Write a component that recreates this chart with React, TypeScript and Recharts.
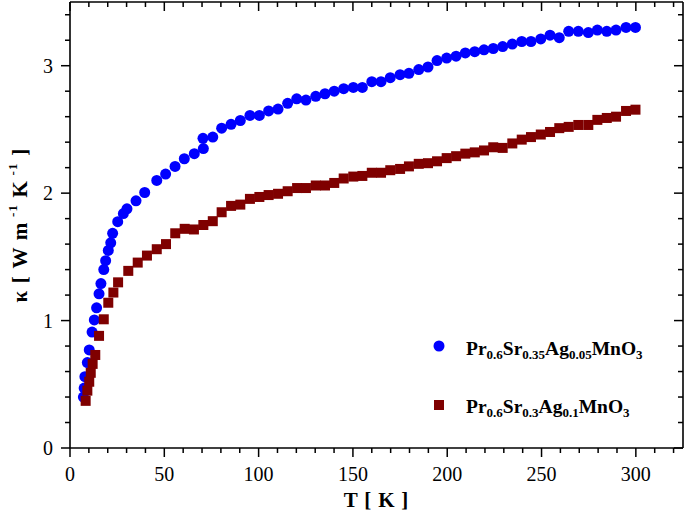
import React from "react";
import { ScatterChart, Scatter, XAxis, YAxis } from "recharts";

const FONT = "'Liberation Serif', 'Times New Roman', serif";

// Pr0.6Sr0.35Ag0.05MnO3 (blue circles)
const blueT = [
  7.1, 7.5, 7.9, 9.2, 10.2, 11.7, 12.9, 14.1, 15.4, 16.4, 17.9, 18.9, 20.3, 21.6, 22.6, 25.3, 28.3, 30.2, 35,
  39.6, 46, 50.7, 55.7, 60.6, 65.9, 70.7, 70.5, 75.7, 80.4, 85.4, 90.3, 95.4, 100.4, 105.3, 110.3, 115.4, 120.2,
  125.1, 130.3, 135.2, 140.1, 145.1, 150.2, 155, 160, 164.9, 169.8, 175, 179.7, 184.9, 189.8, 194.6, 199.7,
  204.7, 209.6, 214.6, 219.5, 224.4, 229.4, 234.5, 239.5, 244.4, 249.6, 254.5, 259.4, 264.4, 269.5, 274.8,
  279.6, 284.6, 289.5, 294.8, 299.8,
];
const blueK = [
  0.4, 0.47, 0.56, 0.67, 0.77, 0.91, 1.005, 1.1, 1.21, 1.29, 1.4, 1.47, 1.55, 1.61, 1.685, 1.776, 1.84, 1.877, 1.94,
  2.005, 2.1, 2.15, 2.21, 2.27, 2.31, 2.35, 2.43, 2.44, 2.51, 2.54, 2.57, 2.61, 2.61, 2.645, 2.66, 2.705, 2.74,
  2.73, 2.76, 2.78, 2.8, 2.82, 2.83, 2.83, 2.875, 2.875, 2.906, 2.93, 2.94, 2.97, 2.99, 3.04, 3.06,
  3.075, 3.1, 3.11, 3.125, 3.135, 3.15, 3.17, 3.19, 3.19, 3.21, 3.24, 3.22, 3.27, 3.27, 3.26,
  3.28, 3.27, 3.28, 3.3, 3.3,
];

// Pr0.6Sr0.3Ag0.1MnO3 (dark red squares)
const redT = [
  8.3, 9.2, 10.2, 11.0, 12.0, 13.4, 15.4, 17.9, 20.3, 23.0, 25.5, 30.9, 35.9, 40.8, 46.0, 50.9, 55.8, 60.8,
  65.7, 70.7, 75.7, 80.4, 85.4, 90.3, 95.4, 100.4, 105.3, 110.3, 115.4, 120.4, 125.1, 130.3, 135.2, 140.1,
  145.1, 150.2, 155, 160, 164.9, 169.8, 175, 179.7, 184.9, 189.8, 194.6, 199.7, 204.7, 209.6, 214.6, 219.5,
  224.4, 229.4, 234.5, 239.5, 244.4, 249.6, 254.5, 259.4, 264.4, 269.5, 274.8, 279.6, 284.6, 289.5, 294.8, 299.8,
];
const redK = [
  0.37, 0.45, 0.52, 0.59, 0.66, 0.73, 0.88, 1.01, 1.14, 1.22, 1.3, 1.39, 1.455, 1.51, 1.56, 1.6, 1.685, 1.72,
  1.715, 1.75, 1.78, 1.85, 1.9, 1.91, 1.955, 1.97, 1.985, 1.995, 2.015, 2.04, 2.04, 2.06, 2.06, 2.08,
  2.115, 2.13, 2.135, 2.16, 2.16, 2.18, 2.19, 2.21, 2.23, 2.235, 2.25, 2.275, 2.29, 2.31, 2.32, 2.335,
  2.36, 2.355, 2.39, 2.42, 2.44, 2.46, 2.48, 2.51, 2.52, 2.535, 2.535, 2.575, 2.59, 2.6, 2.645, 2.655,
];

// every 10 K on x, every 0.2 on y; majors get labels
const xTicks = [0, 10, 20, 30, 40, 50, 60, 70, 80, 90, 100, 110, 120, 130, 140, 150, 160, 170, 180, 190, 200, 210, 220, 230, 240, 250, 260, 270, 280, 290, 300, 310, 320];
const yTicks = [0, 0.2, 0.4, 0.6, 0.8, 1, 1.2, 1.4, 1.6, 1.8, 2, 2.2, 2.4, 2.6, 2.8, 3, 3.2, 3.4];
const xLabels = [0, 50, 100, 150, 200, 250, 300];
const yLabels = [0, 1, 2, 3];
const X_MAX = 325;
const Y_MAX = 3.5;

const blueData = blueT.map((t, i) => ({ t, k: blueK[i] }));
const redData = redT.map((t, i) => ({ t, k: redK[i] }));

const BLUE = "#0000ff";
const RED = "#7f0000";
const axisLine = { stroke: "#000", strokeWidth: 1.6 };

// layout
const W = 685;
const H = 520;
const MARGIN = { top: 2, right: 2, bottom: 0, left: 0 };
const Y_AXIS_W = 70;
const X_AXIS_H = 72;
const PLOT_LEFT = MARGIN.left + Y_AXIS_W;
const PLOT_RIGHT = W - MARGIN.right;
const PLOT_TOP = MARGIN.top;
const PLOT_BOTTOM = H - MARGIN.bottom - X_AXIS_H;

const isMajor = (v: number, list: number[]) => list.some((m) => Math.abs(m - v) < 1e-6);

const BottomTick = (p: any) => {
  const major = isMajor(p.payload.value, xLabels);
  return (
    <g>
      <line x1={p.x} x2={p.x} y1={p.y} y2={p.y + (major ? 9 : 5)} stroke="#000" strokeWidth={1.5} />
      {major && (
        <text x={p.x} y={p.y + 33} textAnchor="middle" fontSize={20} fontFamily={FONT} fill="#000">
          {p.payload.value}
        </text>
      )}
    </g>
  );
};

const LeftTick = (p: any) => {
  const major = isMajor(p.payload.value, yLabels);
  return (
    <g>
      <line x1={p.x} x2={p.x - (major ? 9 : 5)} y1={p.y} y2={p.y} stroke="#000" strokeWidth={1.5} />
      {major && (
        <text x={p.x - 17} y={p.y + 7} textAnchor="end" fontSize={20} fontFamily={FONT} fill="#000">
          {p.payload.value}
        </text>
      )}
    </g>
  );
};

// top and right frame with inward ticks, laid over the chart
const Frame = () => {
  const sx = (t: number) => PLOT_LEFT + (t / X_MAX) * (PLOT_RIGHT - PLOT_LEFT);
  const sy = (v: number) => PLOT_BOTTOM - (v / Y_MAX) * (PLOT_BOTTOM - PLOT_TOP);
  return (
    <svg width={W} height={H} style={{ position: "absolute", left: 0, top: 0, pointerEvents: "none" }}>
      <line x1={PLOT_LEFT} x2={PLOT_RIGHT} y1={PLOT_TOP} y2={PLOT_TOP} stroke="#000" strokeWidth={1.6} />
      <line x1={PLOT_RIGHT} x2={PLOT_RIGHT} y1={PLOT_TOP} y2={PLOT_BOTTOM} stroke="#000" strokeWidth={1.6} />
      {xTicks.map((t) => (
        <line key={`t${t}`} x1={sx(t)} x2={sx(t)} y1={PLOT_TOP} y2={PLOT_TOP + (isMajor(t, xLabels) ? 9 : 5)} stroke="#000" strokeWidth={1.5} />
      ))}
      {yTicks.map((v) => (
        <line key={`r${v}`} x1={PLOT_RIGHT} x2={PLOT_RIGHT - (isMajor(v, yLabels) ? 9 : 5)} y1={sy(v)} y2={sy(v)} stroke="#000" strokeWidth={1.5} />
      ))}
    </svg>
  );
};

const Dot = (p: any) => <circle cx={p.cx} cy={p.cy} r={5.5} fill={BLUE} />;
const Square = (p: any) => <rect x={p.cx - 5} y={p.cy - 5} width={10} height={10} fill={RED} />;

const XLabel = (p: any) => {
  const vb = p.viewBox;
  return (
    <text x={vb.x + vb.width / 2} y={vb.y + 59} textAnchor="middle" fontSize={21} fontWeight="bold" fontFamily={FONT} fill="#000" letterSpacing={0.8}>
      T [ K ]
    </text>
  );
};

const YLabel = (p: any) => {
  const vb = p.viewBox;
  const cx = 20;
  const cy = vb.y + vb.height / 2;
  return (
    <text
      x={cx}
      y={cy}
      transform={`rotate(-90 ${cx} ${cy})`}
      textAnchor="middle"
      dominantBaseline="central"
      fontSize={21}
      fontWeight="bold"
      fontFamily={FONT}
      fill="#000"
      letterSpacing={1.2}
    >
      κ [ W m
      <tspan dy={-8} fontSize={13}> -1</tspan>
      <tspan dy={8}> K</tspan>
      <tspan dy={-8} fontSize={13}> -1</tspan>
      <tspan dy={8}> ]</tspan>
    </text>
  );
};

const Formula = ({ parts, x, y }: { parts: [string, string][]; x: number; y: number }) => (
  <text x={x} y={y} fontSize={19.5} fontWeight="bold" fontFamily={FONT} fill="#000">
    {parts.map(([main, sub], i) => (
      <React.Fragment key={i}>
        <tspan dy={i === 0 ? 0 : -4}>{main}</tspan>
        <tspan dy={4} fontSize={13}>{sub}</tspan>
      </React.Fragment>
    ))}
  </text>
);

const LegendBox = () => (
  <svg width={260} height={95} style={{ position: "absolute", left: 425, top: 330 }}>
    <circle cx={14} cy={16} r={5.5} fill={BLUE} />
    <Formula x={41} y={25} parts={[["Pr", "0.6"], ["Sr", "0.35"], ["Ag", "0.05"], ["MnO", "3"]]} />
    <rect x={9} y={70} width={10} height={10} fill={RED} />
    <Formula x={41} y={83} parts={[["Pr", "0.6"], ["Sr", "0.3"], ["Ag", "0.1"], ["MnO", "3"]]} />
  </svg>
);

export default function App() {
  return (
    <div style={{ position: "absolute", left: 0, top: 0, width: W, height: H, background: "#fff" }}>
      <ScatterChart width={W} height={H} margin={MARGIN}>
        <XAxis
          xAxisId="bottom"
          dataKey="t"
          type="number"
          domain={[0, X_MAX]}
          ticks={xTicks}
          interval={0}
          height={X_AXIS_H}
          tickSize={0}
          tickMargin={0}
          tickLine={false}
          axisLine={axisLine}
          tick={<BottomTick />}
          label={<XLabel />}
        />
        <YAxis
          yAxisId="left"
          dataKey="k"
          type="number"
          domain={[0, Y_MAX]}
          ticks={yTicks}
          interval={0}
          width={Y_AXIS_W}
          tickSize={0}
          tickMargin={0}
          tickLine={false}
          axisLine={axisLine}
          tick={<LeftTick />}
          label={<YLabel />}
        />
        <Scatter xAxisId="bottom" yAxisId="left" data={blueData} shape={<Dot />} isAnimationActive={false} />
        <Scatter xAxisId="bottom" yAxisId="left" data={redData} shape={<Square />} isAnimationActive={false} />
      </ScatterChart>
      <Frame />
      <LegendBox />
    </div>
  );
}
